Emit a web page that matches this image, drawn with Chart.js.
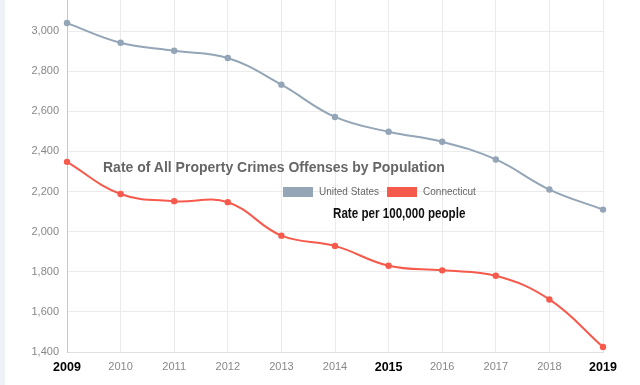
<!DOCTYPE html>
<html>
<head>
<meta charset="utf-8">
<script src="https://cdn.jsdelivr.net/npm/chart.js@4/dist/chart.umd.min.js"></script>
<style>
    html, body { margin: 0; padding: 0; background: #fff; }
    #wrap { position: relative; width: 640px; height: 385px; overflow: hidden; }
    #strip { position: absolute; left: 0; top: 0; width: 5px; height: 385px; background: #eef1f5; }
    #crimeChart { position: absolute; left: 0; top: 0; }
    .overlay { position: absolute; white-space: nowrap; font-family: "Liberation Sans", Arial, sans-serif; }
    #title { left: 103px; top: 159px; font-size: 14px; font-weight: bold; color: #666; }
    #legend { left: 283px; top: 186px; font-size: 10px; color: #666; display: flex; align-items: center; }
    #legend .item { display: flex; align-items: center; margin-right: 8px; }
    #legend .box { width: 30px; height: 10px; margin-right: 6px; }
    #subtitle { left: 333px; top: 205px; font-size: 14px; font-weight: bold; color: #111;
        transform: scaleX(0.83); transform-origin: left top; }
</style>
</head>
<body>
<div id="wrap">
    <div id="strip"></div>
    <canvas id="crimeChart" width="640" height="385"></canvas>
    <div class="overlay" id="title">Rate of All Property Crimes Offenses by Population</div>
    <div class="overlay" id="legend"></div>
    <div class="overlay" id="subtitle">Rate per 100,000 people</div>
</div>
<script>
// 年份與資料（每十萬人財產犯罪率）
const years = ['2009', '2010', '2011', '2012', '2013', '2014', '2015', '2016', '2017', '2018', '2019'];
const unitedStates = [3040, 2942, 2902, 2866, 2733, 2572, 2498, 2448, 2360, 2210, 2110];
const connecticut = [2348, 2188, 2152, 2147, 1980, 1929, 1830, 1807, 1780, 1662, 1425];
const boldYears = ['2009', '2015', '2019'];
const yTicks = [1400, 1600, 1800, 2000, 2200, 2400, 2600, 2800, 3000];

const usColor = '#93a5b6';
const ctColor = '#f55a4c';

const datasets = [
    { label: 'United States', data: unitedStates, borderColor: usColor, backgroundColor: usColor },
    { label: 'Connecticut', data: connecticut, borderColor: ctColor, backgroundColor: ctColor }
];

// 自製圖例
const legendBox = document.getElementById('legend');
datasets.forEach(ds => {
    const item = document.createElement('div');
    item.classList.add('item');
    item.innerHTML = `<span class="box" style="background:${ds.backgroundColor}"></span>${ds.label}`;
    legendBox.appendChild(item);
});

// 取消座標軸自動加的邊距，讓繪圖區貼齊上緣
function noPadding(scale) {
    scale.paddingTop = 0;
    scale.paddingBottom = 0;
    scale.paddingLeft = 0;
    scale.paddingRight = 0;
}

const ctx = document.getElementById('crimeChart');
new Chart(ctx, {
    type: 'line',
    data: {
        labels: years,
        datasets: datasets.map(ds => ({
            ...ds,
            borderWidth: 2,
            pointRadius: 3.2,
            pointBorderWidth: 0,
            tension: 0.4,
            fill: false
        }))
    },
    options: {
        responsive: false,
        animation: false,
        layout: { autoPadding: false, padding: { left: 0, right: 37, top: 0, bottom: 0 } },
        plugins: {
            legend: { display: false },
            title: { display: false },
            tooltip: { enabled: false }
        },
        scales: {
            x: {
                grid: { color: '#ebebeb', drawTicks: false },
                border: { color: '#e0e0e0' },
                ticks: {
                    padding: 8,
                    maxRotation: 0,
                    autoSkip: false,
                    color: (c) => boldYears.includes(years[c.index]) ? '#000' : '#888',
                    font: (c) => boldYears.includes(years[c.index])
                        ? { family: '"Liberation Sans", Arial, sans-serif', size: 12.5, weight: 'bold' }
                        : { family: '"Liberation Sans", Arial, sans-serif', size: 11 }
                },
                afterFit: (scale) => { scale.height = 33; noPadding(scale); }
            },
            y: {
                min: 1400,
                max: 3155,
                grid: { color: '#ebebeb', drawTicks: false },
                border: { color: '#c8c8c8' },
                afterBuildTicks: (scale) => {
                    scale.ticks = yTicks.map(v => ({ value: v }));
                },
                ticks: {
                    padding: 8,
                    color: '#888',
                    font: { family: '"Liberation Sans", Arial, sans-serif', size: 11 },
                    callback: (v) => v.toLocaleString('en-US')
                },
                afterFit: (scale) => { scale.width = 67; noPadding(scale); }
            }
        }
    }
});
</script>
</body>
</html>
